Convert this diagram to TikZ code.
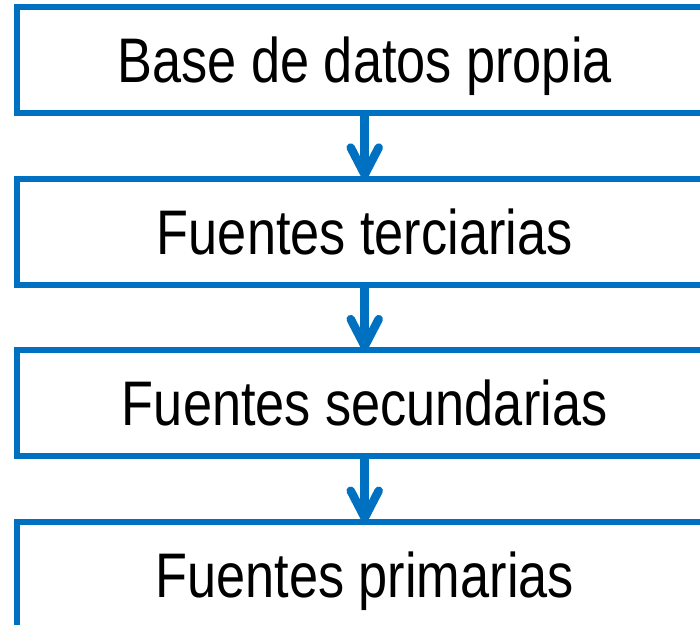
\documentclass[tikz,border=0pt]{standalone}
\usepackage{fontspec}
\setmainfont[FakeStretch=0.83]{Liberation Sans}
\usetikzlibrary{positioning,arrows.meta}
\definecolor{azul}{RGB}{0,112,192}
\tikzset{
fuente/.style={draw=azul, line width=6pt, outer sep=0pt, inner sep=0pt,
  minimum width=696pt, minimum height=106pt, text height=45pt, text depth=0pt,
  font=\fontsize{63}{70}\selectfont},
flecha/.style={draw=azul, line width=8.5pt, -{Straight Barb[round,length=27pt,width=28pt]}}
}

\begin{document}
\begin{tikzpicture}[x=1pt, y=-1pt, node distance=65.6pt]
\useasboundingbox (0,0) rectangle (700,624);
\node[fuente] (base) at (364.7,60.2) {Base de datos propia};
\node[fuente, below=of base] (terciarias) {Fuentes terciarias};
\node[fuente, below=of terciarias] (secundarias) {Fuentes secundarias};
\node[fuente, below=of secundarias] (primarias) {Fuentes primarias};
\draw[flecha] (base) -- (terciarias);
\draw[flecha] (terciarias) -- (secundarias);
\draw[flecha] (secundarias) -- (primarias);
\end{tikzpicture}
\end{document}
